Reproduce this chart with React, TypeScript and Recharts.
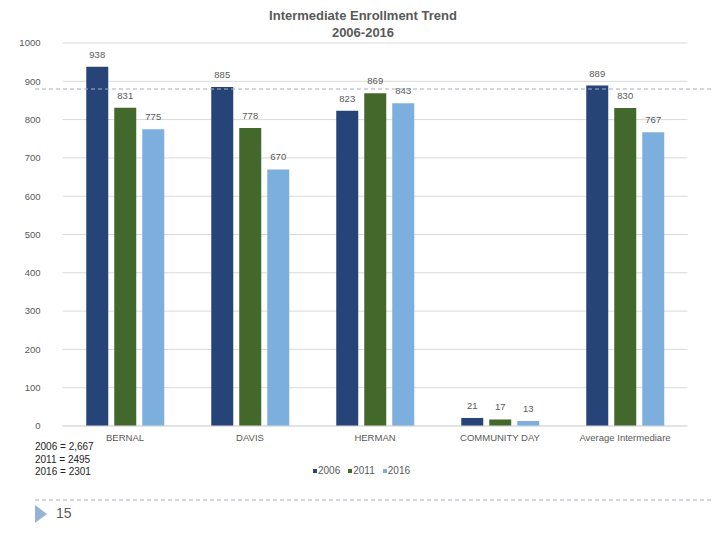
import { BarChart, Bar, XAxis, YAxis, CartesianGrid, LabelList } from 'recharts';

const schools = ['BERNAL', 'DAVIS', 'HERMAN', 'COMMUNITY DAY', 'Average Intermediare'];
const y2006 = [938, 885, 823, 21, 889];
const y2011 = [831, 778, 869, 17, 830];
const y2016 = [775, 670, 843, 13, 767];
const yTicks = [0, 100, 200, 300, 400, 500, 600, 700, 800, 900, 1000];
const totals = ['2006 = 2,667', '2011 = 2495', '2016 = 2301'];

const series = [
  { key: 'y2006', name: '2006', color: '#264478' },
  { key: 'y2011', name: '2011', color: '#43682B' },
  { key: 'y2016', name: '2016', color: '#7CAFDD' },
];

const data = schools.map((s, i) => ({
  school: s,
  y2006: y2006[i],
  y2011: y2011[i],
  y2016: y2016[i],
}));

const font = '"Liberation Sans", Arial, sans-serif';
const grey = '#595959';

function App() {
  return (
    <div style={{ position: 'absolute', left: 0, top: 0, width: 720, height: 540, background: '#fff', fontFamily: font }}>
      <div style={{ position: 'absolute', left: 0, width: 726, top: 7, textAlign: 'center', fontSize: 13, fontWeight: 'bold', color: grey, lineHeight: '17px' }}>
        Intermediate Enrollment Trend
        <br />
        2006-2016
      </div>
      <BarChart
        width={720}
        height={540}
        data={data}
        margin={{ top: 43, right: 32.5, bottom: 84, left: 22.5 }}
        barCategoryGap="19%"
        barGap={6}
      >
        <CartesianGrid vertical={false} stroke="#D9D9D9" />
        <XAxis
          dataKey="school"
          height={30}
          tickLine={false}
          axisLine={{ stroke: '#D9D9D9' }}
          tick={{ fontSize: 9.5, fill: grey, fontFamily: font }}
          interval={0}
        />
        <YAxis
          width={40}
          domain={[0, 1000]}
          ticks={yTicks}
          axisLine={false}
          tickLine={false}
          tickSize={0}
          tickMargin={22}
          tick={{ fontSize: 9.5, fill: grey, fontFamily: font }}
        />
        {series.map((s) => (
          <Bar key={s.key} dataKey={s.key} name={s.name} fill={s.color} isAnimationActive={false}>
            <LabelList dataKey={s.key} position="top" offset={9} style={{ fontSize: 9.5, fill: grey, fontFamily: font }} />
          </Bar>
        ))}
      </BarChart>
      <svg style={{ position: 'absolute', left: 0, top: 0 }} width={720} height={540}>
        <line x1={35} x2={712} y1={89} y2={89} stroke="#A6B0BE" strokeDasharray="4 3" />
        <line x1={35} x2={712} y1={500} y2={500} stroke="#A6B0BE" strokeDasharray="4 3" />
        <polygon points="35,505 47,514 35,523" fill="#95B3D7" />
      </svg>
      <div style={{ position: 'absolute', left: 56, top: 505, fontSize: 14, color: grey }}>15</div>
      <div style={{ position: 'absolute', left: 35, top: 441, fontSize: 10, color: '#222', lineHeight: '12.5px' }}>
        {totals.map((t) => (
          <div key={t}>{t}</div>
        ))}
      </div>
      <div style={{ position: 'absolute', left: 313, top: 465, display: 'flex', gap: 8, fontSize: 10, color: grey }}>
        {series.map((s) => (
          <div key={s.key} style={{ display: 'flex', alignItems: 'center' }}>
            <span style={{ display: 'inline-block', width: 4, height: 4, background: s.color, marginRight: 1 }} />
            {s.name}
          </div>
        ))}
      </div>
    </div>
  );
}

export default App;
